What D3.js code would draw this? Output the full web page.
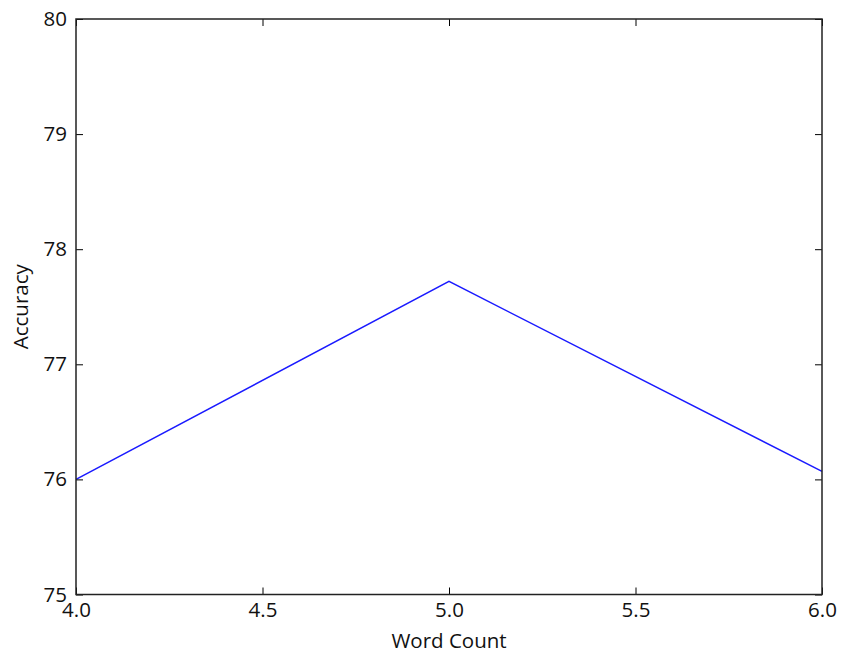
<!DOCTYPE html>
<html><head><meta charset="utf-8">
<script src="https://cdnjs.cloudflare.com/ajax/libs/d3/7.8.5/d3.min.js"></script>
<style>body{margin:0;background:#fff}text{font-family:"Open Sans",sans-serif}</style>
</head><body><svg id="c" width="841" height="656"></svg>
<script>
const wordCount = [4.0, 5.0, 6.0];
const accuracy = [76.0, 77.72, 76.07];
const xTicks = [4.0, 4.5, 5.0, 5.5, 6.0];
const yTicks = [75, 76, 77, 78, 79, 80];

const svg = d3.select("#c");
const m = {l: 76, r: 822, t: 19, b: 594.5};
const x = d3.scaleLinear().domain([4, 6]).range([m.l, m.r]);
const y = d3.scaleLinear().domain([75, 80]).range([m.b, m.t]);
const tl = 7;

svg.append("path")
  .datum(wordCount.map((d, i) => [d, accuracy[i]]))
  .attr("fill", "none").attr("stroke", "#1a1aff").attr("stroke-width", 1.5)
  .attr("d", d3.line().x(d => x(d[0])).y(d => y(d[1])));

const fs = 20.5;
svg.append("g").attr("transform", `translate(0,${m.b})`)
  .call(d3.axisBottom(x).tickValues(xTicks).tickFormat(d3.format(".1f")).tickSizeInner(-tl).tickSizeOuter(0).tickPadding(7.5))
  .call(g => { g.select(".domain").remove(); g.selectAll("text").attr("font-size", fs).attr("fill", "#111"); g.selectAll("line").attr("stroke", "#000"); });
svg.append("g").attr("transform", `translate(0,${m.t})`)
  .call(d3.axisTop(x).tickValues(xTicks).tickFormat("").tickSizeInner(-tl).tickSizeOuter(0))
  .call(g => { g.select(".domain").remove(); g.selectAll("line").attr("stroke", "#000"); });
svg.append("g").attr("transform", `translate(${m.l},0)`)
  .call(d3.axisLeft(y).tickValues(yTicks).tickFormat(d3.format("d")).tickSizeInner(-tl).tickSizeOuter(0).tickPadding(9))
  .call(g => { g.select(".domain").remove(); g.selectAll("text").attr("font-size", fs).attr("fill", "#111"); g.selectAll("line").attr("stroke", "#000"); });
svg.append("g").attr("transform", `translate(${m.r},0)`)
  .call(d3.axisRight(y).tickValues(yTicks).tickFormat("").tickSizeInner(-tl).tickSizeOuter(0))
  .call(g => { g.select(".domain").remove(); g.selectAll("line").attr("stroke", "#000"); });

svg.append("rect").attr("x", m.l).attr("y", m.t).attr("width", m.r - m.l).attr("height", m.b - m.t)
  .attr("fill", "none").attr("stroke", "#222").attr("stroke-width", 1.5);

svg.append("text").attr("x", (m.l + m.r) / 2).attr("y", 648).attr("text-anchor", "middle")
  .attr("font-size", fs).attr("fill", "#111").text("Word Count");
svg.append("text").attr("transform", `translate(28,${(m.t + m.b) / 2}) rotate(-90)`).attr("text-anchor", "middle")
  .attr("font-size", fs).attr("fill", "#111").text("Accuracy");
</script></body></html>
